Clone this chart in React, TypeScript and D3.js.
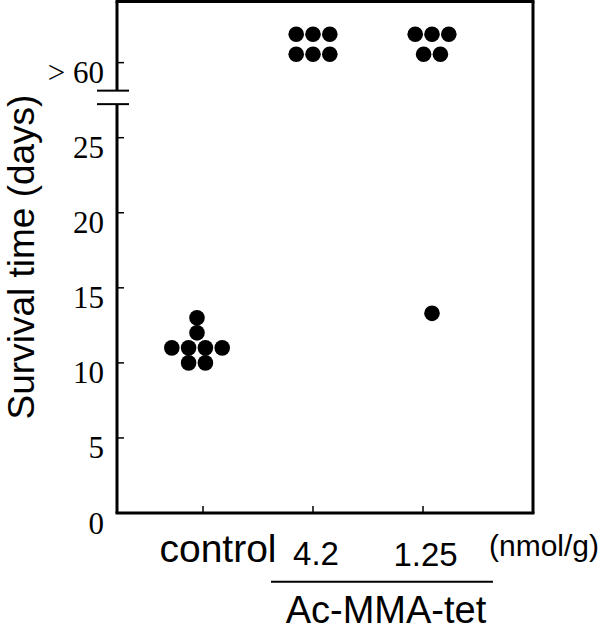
import React from 'react';
import * as d3 from 'd3';

// groups on the x axis
const groups = ['control', '4.2', '1.25'];
// survival in days, per mouse; SURVIVED = still alive after 60 days
const SURVIVED = Infinity;
const controlDays = [13, 12, 11, 11, 11, 11, 10, 10];
const dose42Days = [SURVIVED, SURVIVED, SURVIVED, SURVIVED, SURVIVED, SURVIVED];
const dose125Days = [SURVIVED, SURVIVED, SURVIVED, SURVIVED, SURVIVED, 13.3];
const groupDays = [controlDays, dose42Days, dose125Days];

const yTicks = [0, 5, 10, 15, 20, 25];
const survivedLabel = '> 60';
const survivedTickAt = 30; // where the "> 60" tick sits on the broken axis
const doseUnit = '(nmol/g)';
const drugName = 'Ac-MMA-tet';
const yTitle = 'Survival time (days)';

const W = 600;
const H = 630;
const frame = { left: 117, right: 533, top: 1.5, bottom: 513 };
const dotR = 7.8;
const dotStep = 16.8;
const rowStep = 20;
const swarmShift = [-6, 0, 9];
const labelShift = [15, 3, 2.5];
const labelBaseline = [562, 565, 566];

export default function App() {
  const y = d3.scaleLinear().domain([0, 25]).range([frame.bottom, 137.7]);
  const x = d3.scalePoint<string>().domain(groups).range([203, 423]);
  const ySurv = y(survivedTickAt);
  const breakTop = ySurv + 28;
  const breakBot = ySurv + 41.5;

  const dots: { cx: number; cy: number }[] = [];
  groupDays.forEach((days, gi) => {
    const cx0 = (x(groups[gi]) as number) + swarmShift[gi];
    // finite values: one row per value, centred
    const finite = days.filter(d => isFinite(d));
    const byValue = d3.group(finite, d => d);
    byValue.forEach((vals, v) => {
      vals.forEach((_, i) => {
        dots.push({ cx: cx0 + (i - (vals.length - 1) / 2) * dotStep, cy: y(v) });
      });
    });
    // survivors: rows of three stacked above the "> 60" tick, top row first
    const surv = days.filter(d => !isFinite(d)).length;
    const rows = Math.ceil(surv / 3);
    for (let r = 0; r < rows; r++) {
      const n = Math.min(3, surv - r * 3);
      const cy = ySurv - 8.4 - (rows - 1 - r) * rowStep;
      for (let i = 0; i < n; i++) {
        dots.push({ cx: cx0 + (i - (n - 1) / 2) * dotStep, cy });
      }
    }
  });

  const serif = "'Liberation Serif', 'Times New Roman', serif";
  const sans = "'Liberation Sans', Arial, sans-serif";
  const line = { stroke: 'black', strokeWidth: 3, fill: 'none' };

  return (
    <svg width={W} height={H} style={{ position: 'absolute', left: 0, top: 0, background: 'white' }}>
      {/* frame, left side broken */}
      <line x1={frame.left - 1.5} x2={frame.right + 1.5} y1={frame.top} y2={frame.top} style={line} />
      <line x1={frame.right} x2={frame.right} y1={frame.top} y2={frame.bottom} style={line} />
      <line x1={frame.left - 1.5} x2={frame.right + 1.5} y1={frame.bottom} y2={frame.bottom} style={line} />
      <line x1={frame.left} x2={frame.left} y1={frame.top} y2={breakTop} style={line} />
      <line x1={frame.left} x2={frame.left} y1={breakBot} y2={frame.bottom} style={line} />
      <line x1={97} x2={129} y1={breakTop} y2={breakTop} stroke="black" strokeWidth={2} />
      <line x1={97} x2={129} y1={breakBot} y2={breakBot} stroke="black" strokeWidth={2} />

      {/* y ticks */}
      {yTicks.map(t => (
        <g key={t}>
          <line x1={frame.left} x2={frame.left + 7} y1={y(t)} y2={y(t)} stroke="black" strokeWidth={1.5} />
          <text x={104} y={y(t) + 20.5} textAnchor="end" fontFamily={serif} fontSize={31}>{t}</text>
        </g>
      ))}
      <line x1={frame.left} x2={frame.left + 7} y1={ySurv} y2={ySurv} stroke="black" strokeWidth={1.5} />
      <text x={104} y={ySurv + 20.5} textAnchor="end" fontFamily={serif} fontSize={31} style={{ whiteSpace: 'pre' }}>
        {survivedLabel}
      </text>

      {/* x ticks and labels */}
      {groups.map((g, i) => (
        <g key={g}>
          <line x1={x(g)} x2={x(g)} y1={frame.bottom} y2={frame.bottom - 7} stroke="black" strokeWidth={1.5} />
          <text x={(x(g) as number) + labelShift[i]} y={labelBaseline[i]} textAnchor="middle"
            fontFamily={sans} fontSize={i === 0 ? 39 : 33}>{g}</text>
        </g>
      ))}
      <text x={489} y={556} fontFamily={sans} fontSize={30}>{doseUnit}</text>
      <line x1={271} x2={493} y1={581.7} y2={581.7} stroke="black" strokeWidth={2} />
      <text x={386} y={622.5} textAnchor="middle" fontFamily={sans} fontSize={38}>{drugName}</text>

      {/* y title */}
      <text transform={`translate(34,257) rotate(-90)`} textAnchor="middle" fontFamily={sans} fontSize={37}>{yTitle}</text>

      {/* mice */}
      {dots.map((d, i) => (
        <circle key={i} cx={d.cx} cy={d.cy} r={dotR} fill="black" />
      ))}
    </svg>
  );
}
